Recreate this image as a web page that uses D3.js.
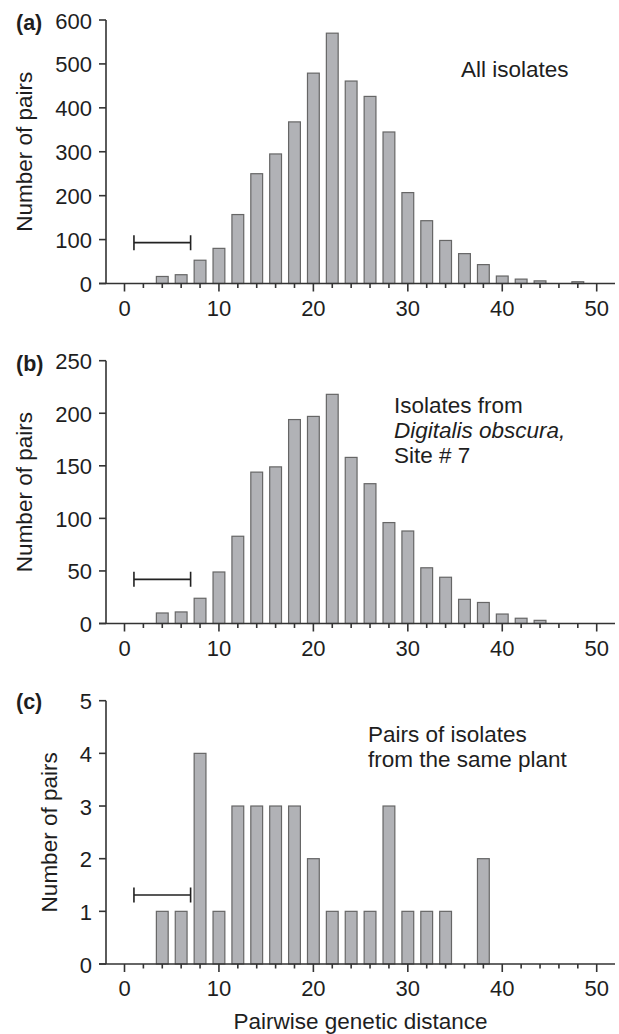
<!DOCTYPE html>
<meta charset="utf-8">
<html>
<head>
<title>Pairwise genetic distance</title>
<style>
body { margin: 0; background: #fff; }
text { font-family: "Liberation Sans", Arial, sans-serif; fill: #1e1e1e; }
.bar { fill: #b1b2b6; stroke: #666; stroke-width: 1.2px; }
.axis { stroke: #333; stroke-width: 1.6px; fill: none; }
.bracket { stroke: #222; stroke-width: 1.6px; fill: none; }
</style>
</head>
<body>
<script src="https://d3js.org/d3.v7.min.js"></script>
<script type="text/javascript">

// distance bins (centre of each bar)
var bins = [0, 2, 4, 6, 8, 10, 12, 14, 16, 18, 20, 22, 24, 26, 28, 30, 32, 34, 36, 38, 40, 42, 44, 46, 48, 50];

// (a) all isolates
var allIsolates = [0, 0, 16, 20, 53, 80, 157, 250, 295, 368, 479, 570, 461, 426, 345, 207, 143, 98, 68, 43, 17, 10, 6, 0, 4, 0];
// (b) Digitalis obscura, site 7
var site7 = [0, 0, 10, 11, 24, 49, 83, 144, 149, 194, 197, 218, 158, 133, 96, 88, 53, 44, 23, 20, 9, 5, 3, 0, 0, 0];
// (c) pairs from the same plant
var samePlant = [0, 0, 1, 1, 4, 1, 3, 3, 3, 3, 2, 1, 1, 1, 3, 1, 1, 1, 0, 2, 0, 0, 0, 0, 0, 0];

var yTicksA = [0, 100, 200, 300, 400, 500, 600];
var yTicksB = [0, 50, 100, 150, 200, 250];
var yTicksC = [0, 1, 2, 3, 4, 5];
var xMajor = [0, 10, 20, 30, 40, 50];
var xMinor = [2, 4, 6, 8, 12, 14, 16, 18, 22, 24, 26, 28, 32, 34, 36, 38, 42, 44, 46, 48];

// the horizontal bracket drawn in each panel
var bracketRange = [1, 7];
var bracketLevel = [93, 42, 1.31];

var svg = d3.select("body").append("svg")
    .attr("width", 619)
    .attr("height", 1034);

var x = d3.scaleLinear().domain([0, 50]).range([124.5, 596.7]);
var axisX = 106;
var barW = x(1.25) - x(0);
var fs = "22.5px";

var panels = [
  { tag: "(a)", values: allIsolates, ticks: yTicksA, top: 20, base: 283.5, tagY: 30,
    note: ["All isolates"], noteX: 461, noteY: 77 },
  { tag: "(b)", values: site7, ticks: yTicksB, top: 360.7, base: 623.5, tagY: 371,
    note: ["Isolates from", "Digitalis obscura,", "Site # 7"], italic: 1, noteX: 394, noteY: 412.5 },
  { tag: "(c)", values: samePlant, ticks: yTicksC, top: 700.7, base: 964, tagY: 709,
    note: ["Pairs of isolates", "from the same plant"], noteX: 368, noteY: 741.5 }
];

panels.forEach(function (p, k) {
  var y = d3.scaleLinear()
      .domain([0, d3.max(p.ticks)])
      .range([p.base, p.top]);

  var g = svg.append("g");

  var rows = bins.map(function (b, i) { return { d: b, v: p.values[i] }; })
      .filter(function (r) { return r.v > 0; });

  g.selectAll(".bar")
    .data(rows)
    .enter()
    .append("rect")
      .attr("class", "bar")
      .attr("x", function (r) { return x(r.d) - barW / 2; })
      .attr("y", function (r) { return y(r.v); })
      .attr("width", barW)
      .attr("height", function (r) { return p.base - y(r.v); });

  // axes lines
  g.append("line").attr("class", "axis")
    .attr("x1", axisX).attr("x2", axisX)
    .attr("y1", p.top).attr("y2", p.base);
  g.append("line").attr("class", "axis")
    .attr("x1", 99).attr("x2", 615)
    .attr("y1", p.base).attr("y2", p.base);

  // y ticks + labels
  g.selectAll(".ytick")
    .data(p.ticks)
    .enter()
    .append("line")
      .attr("class", "axis")
      .attr("x1", axisX - 7).attr("x2", axisX)
      .attr("y1", function (d) { return y(d); })
      .attr("y2", function (d) { return y(d); });

  var yl = g.selectAll(".ylab")
    .data(p.ticks)
    .enter()
    .append("text")
      .attr("x", 92)
      .attr("y", function (d) { return y(d) + 8.5; })
      .attr("text-anchor", "end")
      .style("font-size", "22px")
      .text(function (d) { return d; });

  // x ticks
  g.selectAll(".xmaj")
    .data(xMajor)
    .enter()
    .append("line")
      .attr("class", "axis")
      .attr("x1", function (d) { return x(d); })
      .attr("x2", function (d) { return x(d); })
      .attr("y1", p.base).attr("y2", p.base + 8);
  g.selectAll(".xmin")
    .data(xMinor)
    .enter()
    .append("line")
      .attr("class", "axis")
      .attr("x1", function (d) { return x(d); })
      .attr("x2", function (d) { return x(d); })
      .attr("y1", p.base).attr("y2", p.base + 4.5);
  g.selectAll(".xlab")
    .data(xMajor)
    .enter()
    .append("text")
      .attr("x", function (d) { return x(d); })
      .attr("y", p.base + 32)
      .attr("text-anchor", "middle")
      .style("font-size", "22px")
      .text(function (d) { return d; });

  // y axis title sits left of the widest tick label
  var minLeft = 1e9;
  yl.each(function () { minLeft = Math.min(minLeft, this.getBBox().x); });
  g.append("text")
    .attr("transform", "translate(" + (minLeft - 23) + "," + ((p.top + p.base) / 2) + ") rotate(-90)")
    .attr("text-anchor", "middle")
    .style("font-size", fs)
    .text("Number of pairs");

  // panel tag
  g.append("text")
    .attr("x", 16)
    .attr("y", p.tagY)
    .style("font-size", "21.5px")
    .style("font-weight", "bold")
    .text(p.tag);

  // bracket
  var by = y(bracketLevel[k]);
  g.append("path")
    .attr("class", "bracket")
    .attr("d", "M" + x(bracketRange[0]) + "," + by + "H" + x(bracketRange[1]) +
      "M" + x(bracketRange[0]) + "," + (by - 7.5) + "V" + (by + 7.5) +
      "M" + x(bracketRange[1]) + "," + (by - 7.5) + "V" + (by + 7.5));

  // annotation
  g.selectAll(".note")
    .data(p.note)
    .enter()
    .append("text")
      .attr("x", p.noteX)
      .attr("y", function (d, i) { return p.noteY + i * 25; })
      .style("font-size", fs)
      .style("font-style", function (d, i) { return p.italic === i ? "italic" : "normal"; })
      .text(function (d) { return d; });
});

svg.append("text")
  .attr("x", 360.5)
  .attr("y", 1029)
  .attr("text-anchor", "middle")
  .style("font-size", fs)
  .text("Pairwise genetic distance");

</script>
</body>
</html>
